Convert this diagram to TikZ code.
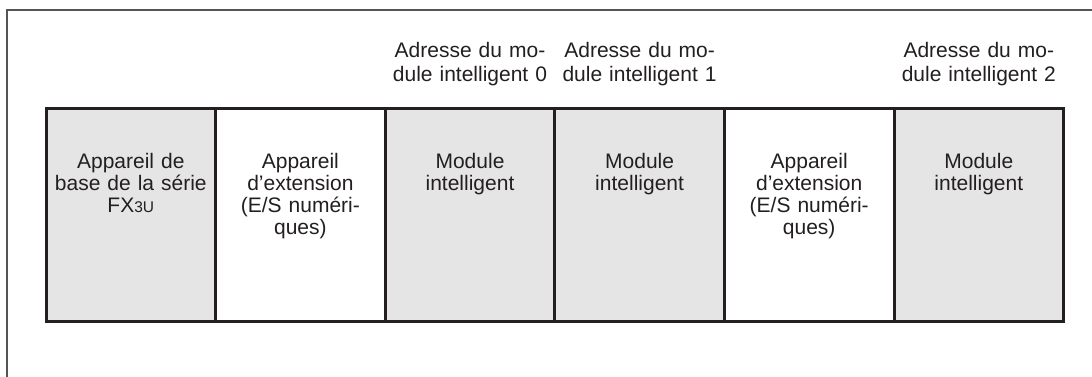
\documentclass[tikz,border=0pt]{standalone}
\usepackage{fontspec}
\setmainfont{Liberation Sans}
\usepackage{tikz}
\usetikzlibrary{positioning}
\usepackage{xcolor}
\definecolor{modgray}{HTML}{E5E5E6}
\definecolor{boxline}{HTML}{231F20}
\definecolor{framegray}{HTML}{555555}

\tikzset{
  module/.style={draw=boxline, line width=3pt, fill=modgray, minimum width=169.6pt,
    minimum height=213pt, inner sep=0pt, outer sep=0pt, anchor=north west},
  extension/.style={module, fill=white},
  caption/.style={text width=168pt, align=center, anchor=base, inner sep=0pt,
    text=boxline, font=\fontsize{21}{22}\selectfont},
  address/.style={caption, font=\fontsize{21}{24}\selectfont}
}

\begin{document}
\begin{tikzpicture}[x=1pt,y=-1pt]
  \useasboundingbox (0,0) rectangle (1092,376);
  \draw[framegray, line width=1.5pt] (7,377) -- (7,10) -- (1093,10);
  % row of units
  \node[module] (base) at (46,108) {};
  \node[extension, right=0pt of base] (ext1) {};
  \node[module, right=0pt of ext1] (mod0) {};
  \node[module, right=0pt of mod0] (mod1) {};
  \node[extension, right=0pt of mod1] (ext2) {};
  \node[module, right=0pt of ext2] (mod2) {};
  % texts in the units
  \node[caption] (lbase) at ([yshift=-60pt]base.north) {Appareil de\\base de la série\\FX{\fontsize{15.5}{15.5}\selectfont 3U}};
  \node[caption] (lext1) at ([yshift=-60pt]ext1.north) {Appareil\\d’extension\\(E/S numéri-\\ques)};
  \node[caption] (lmod0) at ([yshift=-60pt]mod0.north) {Module\\intelligent};
  \node[caption] (lmod1) at ([yshift=-60pt]mod1.north) {Module\\intelligent};
  \node[caption] (lext2) at ([yshift=-60pt]ext2.north) {Appareil\\d’extension\\(E/S numéri-\\ques)};
  \node[caption] (lmod2) at ([yshift=-60pt]mod2.north) {Module\\intelligent};
  % addresses
  \node[address] (adr0) at ([yshift=51pt]mod0.north) {Adresse du mo-\\dule intelligent 0};
  \node[address] (adr1) at ([yshift=51pt]mod1.north) {Adresse du mo-\\dule intelligent 1};
  \node[address] (adr2) at ([yshift=51pt]mod2.north) {Adresse du mo-\\dule intelligent 2};
\end{tikzpicture}
\end{document}
